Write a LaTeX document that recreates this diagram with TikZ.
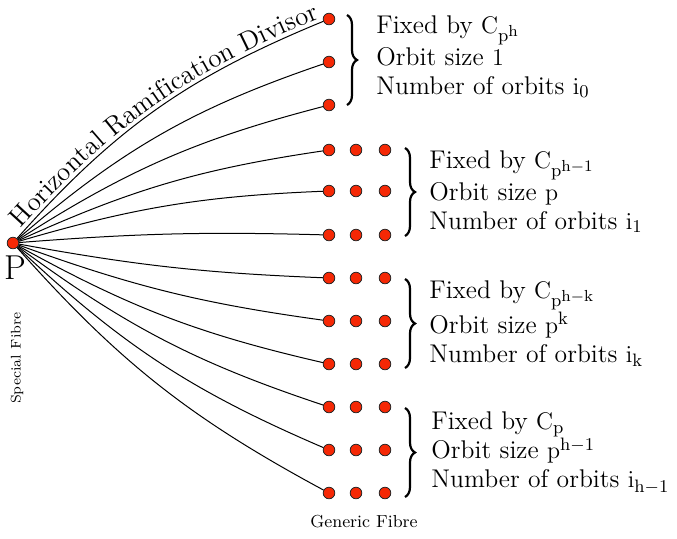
\documentclass[tikz,border=0pt]{standalone}
\usetikzlibrary{decorations.pathreplacing,decorations.text}
\definecolor{dotred}{RGB}{245,40,5}
\newcommand{\mv}[1]{\mathrm{#1}}
\DeclareMathSizes{12.8}{12.8}{9.2}{8}
\begin{document}
\begin{tikzpicture}[x=0.5pt,y=-0.5pt,
  dot/.style={circle,fill=dotred,draw=black!85,line width=0.4pt,inner sep=0pt,minimum size=5.8pt},
  fibre/.style={line width=0.5pt},
  lbl/.style={anchor=west,align=left,inner sep=0pt,font=\fontsize{12.8}{14.5}\selectfont},
  br/.style={decorate,decoration={brace,amplitude=5pt},line width=1.1pt}]
\useasboundingbox (0,0) rectangle (677,538);
% special point
\node[dot] (P) at (13,243) {};
% generic fibre dots
\foreach \y [count=\i] in {19,62,105,150,191,235,278,321,364,407,450,493}{
  \node[dot] (g\i) at (329,\y) {};
}
\foreach \y [count=\i from 4] in {150,191,235,278,321,364,407,450,493}{
  \node[dot] (g\i b) at (356,\y) {};
  \node[dot] (g\i c) at (385,\y) {};
}
% curves
\draw[fibre,postaction={decorate,decoration={text along path,raise=2pt,text align={left indent=5pt},
  text={|\fontsize{13.4}{15}\selectfont|Horizontal Ramification Divisor}}}] (P) to[bend left=13] (g1);
\foreach \i/\b in {2/11,3/9,4/8,5/7,6/3,7/-4,8/-6,9/-8,10/-9,11/-10,12/-10}{
  \draw[fibre] (P) to[bend left=\b] (g\i);
}
% braces
\draw[br] (347,15) -- (347,105);
\draw[br] (405,148) -- (405,236);
\draw[br] (405,279) -- (405,368);
\draw[br] (405,408) -- (405,497);
% labels
\node[lbl] (t1) at (376,57) {Fixed by $\mv{C}_{\mv{p}^\mv{h}}$\\Orbit size $1$\\Number of orbits $\mv{i}_0$};
\node[lbl] (t2) at (429,192) {Fixed by $\mv{C}_{\mv{p}^{\mv{h}-1}}$\\Orbit size $\mv{p}$\\Number of orbits $\mv{i}_1$};
\node[lbl] (t3) at (429,324) {Fixed by $\mv{C}_{\mv{p}^{\mv{h}-\mv{k}}}$\\Orbit size $\mv{p}^\mv{k}$\\Number of orbits $\mv{i}_\mv{k}$};
\node[lbl] (t4) at (431,453) {Fixed by $\mv{C}_\mv{p}$\\Orbit size $\mv{p}^{\mv{h}-1}$\\Number of orbits $\mv{i}_{\mv{h}-1}$};
\node[font=\LARGE,inner sep=0pt] (Plbl) at (15,268) {P};
\node[rotate=90,font=\scriptsize,inner sep=0pt] (sf) at (17,358) {Special Fibre};
\node[font=\fontsize{8.7}{10}\selectfont,inner sep=0pt] (gf) at (364,522) {Generic Fibre};
\end{tikzpicture}
\end{document}
